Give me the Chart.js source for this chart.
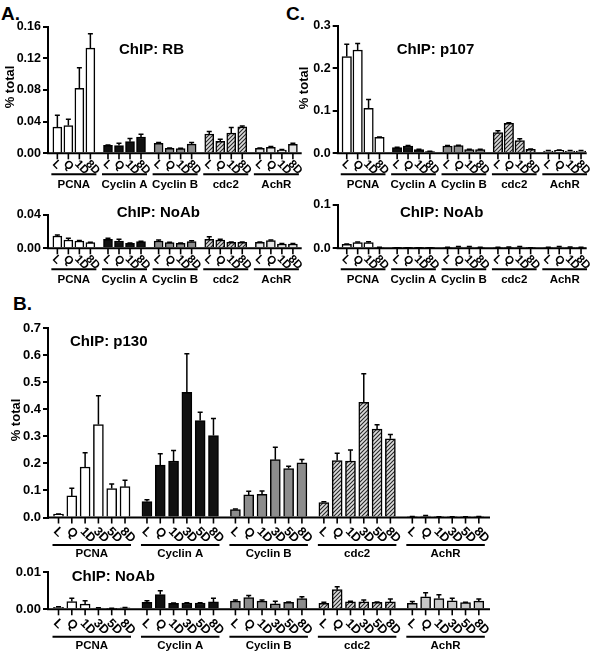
<!DOCTYPE html>
<html>
<head>
<meta charset="utf-8">
<script src="https://cdn.jsdelivr.net/npm/chart.js@4/dist/chart.umd.min.js"></script>
<style>
  body { margin: 0; background: #fff; width: 592px; height: 653px; position: relative; overflow: hidden; }
  canvas { position: absolute; }
  .tag { position: absolute; font: bold 19px "Liberation Sans", Arial, sans-serif; color: #000; }
</style>
</head>
<body>
<div class="tag" style="left:1px;top:3px">A.</div>
<div class="tag" style="left:286px;top:3px">C.</div>
<div class="tag" style="left:13px;top:293px">B.</div>
<canvas id="rb" width="306" height="196" style="left:0;top:0"></canvas>
<canvas id="rbNo" width="306" height="100" style="left:0;top:190px"></canvas>
<canvas id="p107" width="302" height="196" style="left:290px;top:0"></canvas>
<canvas id="p107No" width="302" height="100" style="left:290px;top:190px"></canvas>
<canvas id="p130" width="500" height="270" style="left:0;top:290px"></canvas>
<canvas id="p130No" width="500" height="93" style="left:0;top:560px"></canvas>
<script>
const groups = ['PCNA', 'Cyclin A', 'Cyclin B', 'cdc2', 'AchR'];
const timesAC = ['L', 'Q', '1D', '8D'];
const timesB = ['L', 'Q', '1D', '3D', '5D', '8D'];

// ChIP: RB  (mean, error)  one row per gene
const rbMean = [[0.033, 0.035, 0.082, 0.133], [0.010, 0.0097, 0.0147, 0.0206], [0.0125, 0.0063, 0.006, 0.0115], [0.0244, 0.015, 0.0257, 0.0333], [0.0063, 0.0076, 0.0042, 0.0112]];
const rbErr = [[0.015, 0.008, 0.026, 0.018], [0.0005, 0.003, 0.004, 0.0035], [0.001, 0.0005, 0.0005, 0.002], [0.003, 0.0027, 0.007, 0.0012], [0.0005, 0.001, 0.0005, 0.0015]];
const rbNoAbMean = [[0.0148, 0.010, 0.0088, 0.0068], [0.0108, 0.0088, 0.006, 0.008], [0.0088, 0.0068, 0.006, 0.008], [0.0108, 0.010, 0.0072, 0.0072], [0.0072, 0.0092, 0.0052, 0.0052]];
const rbNoAbErr = [[0.0012, 0.002, 0.0005, 0.0005], [0.0012, 0.002, 0.0005, 0.0005], [0.0012, 0.0005, 0.0005, 0.001], [0.0032, 0.0008, 0.0005, 0.0005], [0.0005, 0.0008, 0.0005, 0.0005]];

// ChIP: p107
const p107Mean = [[0.228, 0.2435, 0.106, 0.0377], [0.0134, 0.0173, 0.0086, 0.004], [0.0173, 0.018, 0.0086, 0.0086], [0.0487, 0.0707, 0.030, 0.0094], [0.0055, 0.007, 0.0055, 0.0055]];
const p107Err = [[0.029, 0.0155, 0.021, 0.001], [0.001, 0.001, 0.001, 0.001], [0.001, 0.001, 0.001, 0.001], [0.0045, 0.0015, 0.0045, 0.001], [0.001, 0.001, 0.001, 0.001]];
const p107NoAbMean = [[0.0092, 0.013, 0.013, 0.002], [0.001, 0.001, 0.001, 0.001], [0.002, 0.003, 0.003, 0.002], [0.002, 0.002, 0.003, 0.001], [0.002, 0.003, 0.002, 0.002]];
const p107NoAbErr = [[0.001, 0.0015, 0.002, 0.0005], [0.0005, 0.0005, 0.0005, 0.0005], [0.0005, 0.001, 0.001, 0.0005], [0.0005, 0.001, 0.001, 0.0005], [0.0005, 0.001, 0.001, 0.0005]];

// ChIP: p130
const p130Mean = [[0.0123, 0.080, 0.187, 0.344, 0.107, 0.114], [0.059, 0.194, 0.209, 0.463, 0.359, 0.303], [0.0295, 0.0835, 0.086, 0.214, 0.181, 0.2026], [0.0553, 0.211, 0.209, 0.426, 0.327, 0.291], [0.003, 0.005, 0.002, 0.002, 0.002, 0.003]];
const p130Err = [[0.001, 0.028, 0.053, 0.106, 0.017, 0.024], [0.007, 0.042, 0.039, 0.143, 0.030, 0.063], [0.002, 0.0135, 0.012, 0.046, 0.009, 0.012], [0.003, 0.027, 0.041, 0.106, 0.016, 0.016], [0.001, 0.002, 0.001, 0.001, 0.001, 0.001]];
const p130NoAbMean = [[0.0005, 0.0021, 0.0014, 0.0003, 0.0002, 0.0004], [0.0019, 0.004, 0.0016, 0.0017, 0.0017, 0.002], [0.0022, 0.0032, 0.0022, 0.0015, 0.0019, 0.0029], [0.0016, 0.0053, 0.002, 0.002, 0.0019, 0.002], [0.0016, 0.0034, 0.0029, 0.0023, 0.0018, 0.0022]];
const p130NoAbErr = [[0.0002, 0.0009, 0.0009, 0.0001, 0.0001, 0.0001], [0.0004, 0.001, 0.0001, 0.0001, 0.0001, 0.001], [0.0003, 0.0005, 0.0003, 0.0007, 0.0001, 0.0005], [0.0003, 0.0008, 0.0002, 0.0005, 0.0001, 0.0008], [0.0005, 0.0011, 0.001, 0.0007, 0.0001, 0.0006]];

const FONT = '"Liberation Sans", Arial, Helvetica, sans-serif';

function hatch() {
  const c = document.createElement('canvas');
  c.width = 4; c.height = 4;
  const g = c.getContext('2d');
  g.fillStyle = '#dcdcdc';
  g.fillRect(0, 0, 4, 4);
  g.strokeStyle = '#262626';
  g.lineWidth = 1.1;
  g.beginPath();
  g.moveTo(0, 4); g.lineTo(4, 0);
  g.moveTo(-1, 1); g.lineTo(1, -1);
  g.moveTo(3, 5); g.lineTo(5, 3);
  g.stroke();
  return g.createPattern(c, 'repeat');
}
const hatchFill = hatch();

// draws error bars, x axis, rotated time labels, gene labels, titles
const figurePlugin = {
  id: 'figure',
  afterDatasetsDraw(chart, args, o) {
    const ctx = chart.ctx;
    const y = chart.scales.y;
    const y0 = y.getPixelForValue(0);
    const bars = chart.getDatasetMeta(0).data;
    const tops = chart.data.datasets[0].tops;
    const n = o.times.length;
    ctx.save();
    ctx.strokeStyle = '#000';
    ctx.fillStyle = '#000';
    // error bars
    ctx.lineWidth = 1.5;
    bars.forEach((b, i) => {
      const yt = y.getPixelForValue(tops[i]);
      ctx.beginPath();
      ctx.moveTo(b.x, b.y);
      ctx.lineTo(b.x, yt);
      ctx.moveTo(b.x - 2.5, yt);
      ctx.lineTo(b.x + 2.5, yt);
      ctx.stroke();
    });
    // x axis
    ctx.lineWidth = 2;
    ctx.beginPath();
    ctx.moveTo(chart.chartArea.left - 1, y0);
    ctx.lineTo(chart.chartArea.right, y0);
    ctx.stroke();
    ctx.lineWidth = 1.6;
    ctx.font = 'bold ' + o.tickSize + 'px ' + FONT;
    bars.forEach((b, i) => {
      ctx.beginPath();
      ctx.moveTo(b.x, y0);
      ctx.lineTo(b.x, y0 + 6);
      ctx.stroke();
      ctx.save();
      ctx.translate(b.x - 3, y0 + o.labelDy);
      ctx.rotate(Math.PI / 4);
      ctx.textAlign = 'left';
      ctx.textBaseline = 'middle';
      ctx.fillText(o.times[i % n], 0, 0);
      ctx.restore();
    });
    // gene groups
    ctx.lineWidth = 2;
    ctx.textAlign = 'center';
    ctx.textBaseline = 'middle';
    ctx.font = 'bold ' + o.groupSize + 'px ' + FONT;
    groups.forEach((name, g) => {
      const x1 = bars[g * n].x - 6;
      const x2 = bars[g * n + n - 1].x + 6;
      ctx.beginPath();
      ctx.moveTo(x1, y0 + o.lineDy);
      ctx.lineTo(x2, y0 + o.lineDy);
      ctx.stroke();
      ctx.fillText(name, (x1 + x2) / 2, y0 + o.nameDy);
    });
    // title
    ctx.textAlign = 'left';
    ctx.font = 'bold 15px ' + FONT;
    ctx.fillText(o.title, o.titleX, o.titleY);
    // y title
    if (o.yTitle) {
      ctx.save();
      ctx.translate(o.yTitle[0], o.yTitle[1]);
      ctx.rotate(-Math.PI / 2);
      ctx.textAlign = 'center';
      ctx.font = 'bold 13px ' + FONT;
      ctx.fillText('% total', 0, 0);
      ctx.restore();
    }
    ctx.restore();
  }
};

function makeChart(id, means, errs, times, colors, p) {
  const n = times.length;
  const pts = [], fills = [], tops = [];
  means.forEach((grp, g) => grp.forEach((v, i) => {
    pts.push({ x: g * (n + p.gap) + i, y: v });
    fills.push(colors[g]);
    tops.push(v + errs[g][i]);
  }));
  return new Chart(document.getElementById(id), {
    type: 'bar',
    data: {
      datasets: [{
        data: pts,
        tops: tops,
        backgroundColor: fills,
        borderColor: '#000',
        borderWidth: 1.5,
        barThickness: p.barW
      }]
    },
    options: {
      responsive: false,
      animation: false,
      devicePixelRatio: 1,
      layout: { padding: { top: p.padTop, bottom: p.padBottom, right: p.padRight, left: 0 } },
      plugins: {
        legend: { display: false },
        tooltip: { enabled: false },
        figure: {
          times: times, title: p.title, titleX: p.titleX, titleY: p.titleY, yTitle: p.yTitle,
          tickSize: p.tickSize, groupSize: p.groupSize, labelDy: p.labelDy, lineDy: p.lineDy, nameDy: p.nameDy
        }
      },
      scales: {
        x: { type: 'linear', display: false, offset: false, min: p.xMin, max: p.xMax },
        y: {
          min: 0, max: p.yMax,
          afterFit: s => { s.width = p.axisW; },
          border: { display: true, width: 2, color: '#000' },
          grid: { drawOnChartArea: false, drawTicks: true, tickLength: 5, color: '#000', lineWidth: 2 },
          ticks: {
            stepSize: p.step, color: '#000', padding: 2,
            font: { family: FONT, size: p.ySize, weight: 'bold' },
            callback: v => Number(v).toFixed(p.dec)
          }
        }
      }
    },
    plugins: [figurePlugin]
  });
}

const colorsAC = ['#ffffff', '#111111', '#8c8c8c', hatchFill, '#e4e4e4'];
const colorsB = ['#ffffff', '#111111', '#8c8c8c', hatchFill, '#c8c8c8'];

const layoutA = { gap: 0.6, xMin: -0.85, xMax: 22.2, axisW: 48, padRight: 4.3, barW: 9, tickSize: 11.5, groupSize: 11.5, ySize: 12.5, labelDy: 9, lineDy: 21, nameDy: 32 };
const layoutC = { gap: 0.62, xMin: -0.83, xMax: 22.0, axisW: 47.7, padRight: 5.3, barW: 9.5, tickSize: 11.5, groupSize: 11.5, ySize: 12.5, labelDy: 9, lineDy: 21, nameDy: 32 };
const layoutB = { gap: 0.65, xMin: -0.79, xMax: 32.44, axisW: 48, padRight: 10, barW: 10, tickSize: 12.5, groupSize: 11.5, ySize: 13, labelDy: 12, lineDy: 27.5, nameDy: 36.5 };

makeChart('rb', rbMean, rbErr, timesAC, colorsAC, Object.assign({}, layoutA, {
  padTop: 26.7, padBottom: 42.7, yMax: 0.16, step: 0.04, dec: 2,
  title: 'ChIP: RB', titleX: 119, titleY: 50, yTitle: [10, 87]
}));
makeChart('rbNo', rbNoAbMean, rbNoAbErr, timesAC, colorsAC, Object.assign({}, layoutA, {
  padTop: 25, padBottom: 41.7, yMax: 0.04, step: 0.04, dec: 2,
  title: 'ChIP: NoAb', titleX: 116.7, titleY: 23.3, yTitle: null
}));
makeChart('p107', p107Mean, p107Err, timesAC, colorsAC, Object.assign({}, layoutC, {
  padTop: 26, padBottom: 42.7, yMax: 0.3, step: 0.1, dec: 1,
  title: 'ChIP: p107', titleX: 106.7, titleY: 50, yTitle: [14, 88]
}));
makeChart('p107No', p107NoAbMean, p107NoAbErr, timesAC, colorsAC, Object.assign({}, layoutC, {
  padTop: 15, padBottom: 41.7, yMax: 0.1, step: 0.1, dec: 1,
  title: 'ChIP: NoAb', titleX: 110, titleY: 23.3, yTitle: null
}));
makeChart('p130', p130Mean, p130Err, timesB, colorsB, Object.assign({}, layoutB, {
  padTop: 38.3, padBottom: 42.5, yMax: 0.7, step: 0.1, dec: 1,
  title: 'ChIP: p130', titleX: 70, titleY: 51.7, yTitle: [16.7, 130]
}));
makeChart('p130No', p130NoAbMean, p130NoAbErr, timesB, colorsB, Object.assign({}, layoutB, {
  padTop: 12.3, padBottom: 43.7, yMax: 0.01, step: 0.01, dec: 2,
  title: 'ChIP: NoAb', titleX: 71.7, titleY: 17.3, yTitle: null
}));
</script>
</body>
</html>
